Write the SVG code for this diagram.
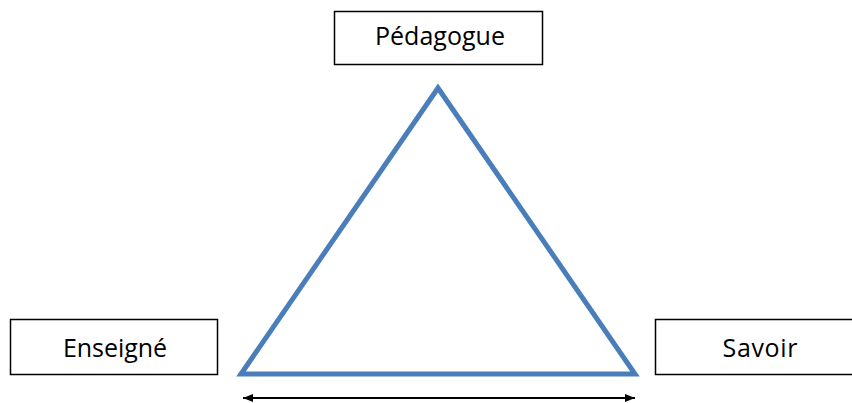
<svg xmlns="http://www.w3.org/2000/svg" width="852" height="403" viewBox="0 0 852 403">
<style>
.box{fill:#fff;stroke:#000;stroke-width:1.5}
.lbl{font-family:"Open Sans","Liberation Sans",sans-serif;font-size:25px;fill:#000;text-anchor:middle}
</style>
<defs>
<marker id="ah" viewBox="0 0 10 8" refX="10" refY="4" markerWidth="10" markerHeight="8" markerUnits="userSpaceOnUse" orient="auto-start-reverse">
<path d="M0,0 L10,4 L0,8 Z" fill="#000"/>
</marker>
</defs>
<rect width="852" height="403" fill="#fff"/>
<g id="connectors">
<polygon points="241,374 438,88 635,374" fill="none" stroke="#4A7EBB" stroke-width="5" stroke-linejoin="miter"/>
<line x1="243" y1="398" x2="635" y2="398" stroke="#000" stroke-width="2" marker-start="url(#ah)" marker-end="url(#ah)"/>
</g>
<g id="pedagogue">
<rect class="box" x="334.5" y="11.5" width="208" height="53"/>
<text class="lbl" x="440" y="45" textLength="130" lengthAdjust="spacing">Pédagogue</text>
</g>
<g id="enseigne">
<rect class="box" x="10.5" y="319.5" width="207" height="55"/>
<text class="lbl" x="115" y="357" textLength="104" lengthAdjust="spacing">Enseigné</text>
</g>
<g id="savoir">
<rect class="box" x="655.5" y="319.5" width="210" height="55"/>
<text class="lbl" x="760" y="357" textLength="75" lengthAdjust="spacing">Savoir</text>
</g>
</svg>
